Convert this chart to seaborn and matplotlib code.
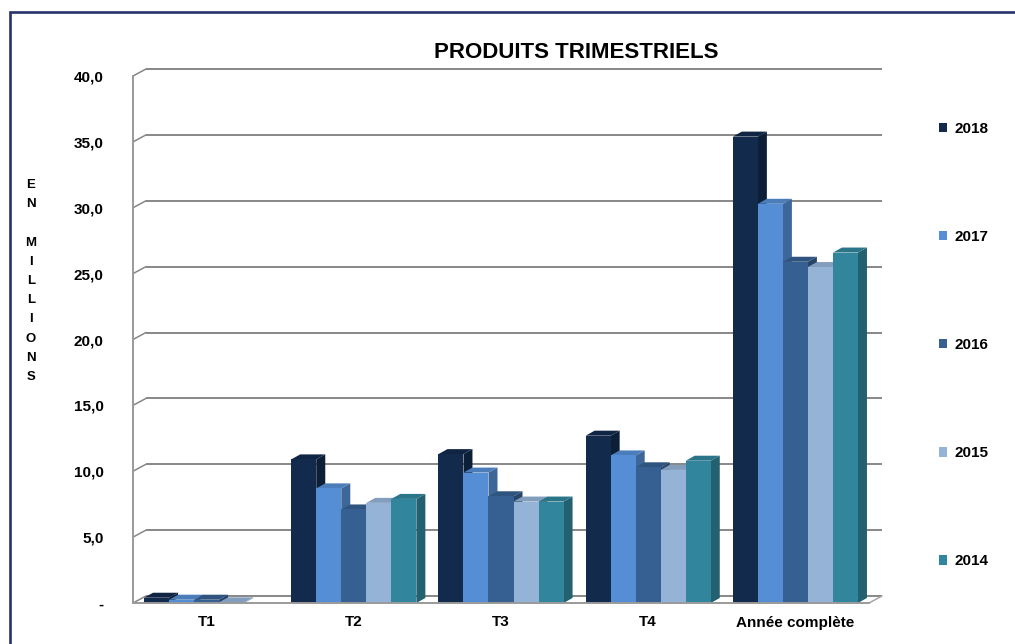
import matplotlib
matplotlib.use('Agg')
import matplotlib.pyplot as plt
import seaborn as sns
import pandas as pd
import numpy as np
from matplotlib.patches import Polygon, Rectangle
import matplotlib.colors as mcolors

# ---------------- data ----------------
categories = ['T1', 'T2', 'T3', 'T4', 'Année complète']
years = ['2018', '2017', '2016', '2015', '2014']
v2018 = [0.4, 10.9, 11.3, 12.7, 35.4]
v2017 = [0.25, 8.7, 9.9, 11.2, 30.3]
v2016 = [0.25, 7.1, 8.1, 10.3, 25.9]
v2015 = [0.05, 7.6, 7.7, 10.1, 25.5]
v2014 = [0.0, 7.9, 7.7, 10.8, 26.6]
y_ticks = [0, 5, 10, 15, 20, 25, 30, 35, 40]
y_tick_labels = ['-', '5,0', '10,0', '15,0', '20,0', '25,0', '30,0', '35,0', '40,0']
colors = ['#122A4C', '#558ED5', '#376092', '#95B3D7', '#31859C']
title = 'PRODUITS TRIMESTRIELS'
ylabel = 'E\nN\n\nM\nI\nL\nL\nI\nO\nN\nS'

df = pd.DataFrame({
    'cat': categories * 5,
    'year': np.repeat(years, len(categories)),
    'val': v2018 + v2017 + v2016 + v2015 + v2014,
})

# ---------------- figure ----------------
sns.set_style('white')
plt.rcParams['font.family'] = ['Liberation Sans', 'DejaVu Sans']
plt.rcParams['text.color'] = 'black'
plt.rcParams['axes.labelcolor'] = 'black'
plt.rcParams['xtick.labelcolor'] = 'black'
plt.rcParams['ytick.labelcolor'] = 'black'

W, H = 1015, 644
fig = plt.figure(figsize=(W / 100, H / 100), dpi=100)
ax_left, ax_right, ax_top, ax_bottom = 133, 869, 76, 603
ax = fig.add_axes([ax_left / W, 1 - ax_bottom / H, (ax_right - ax_left) / W, (ax_bottom - ax_top) / H])

sns.barplot(data=df, x='cat', y='val', hue='year', hue_order=years, order=categories,
            palette=colors, width=0.85, saturation=1, ax=ax, zorder=3,
            edgecolor='none', linewidth=0, errorbar=None)

ax.set_xlim(-0.5, 4.5)
ax.set_ylim(0, 40)

px_x = (ax_right - ax_left) / 5.0      # pixels per x unit
px_y = (ax_bottom - ax_top) / 40.0     # pixels per y unit

# depth offsets (in data units)
bdx, bdy = 9 / px_x, 5 / px_y          # bar depth
wdx, wdy = 13 / px_x, 7 / px_y         # wall depth

grid_c = '#878787'
# back wall gridlines and left-wall diagonals
for v in y_ticks:
    ax.plot([-0.5 + wdx, 4.5 + wdx], [v + wdy, v + wdy], color=grid_c, lw=1.4,
            clip_on=False, zorder=1, solid_capstyle='butt')
    ax.plot([-0.5, -0.5 + wdx], [v, v + wdy], color=grid_c, lw=1.1, clip_on=False, zorder=1)
# floor right diagonal
ax.plot([4.5, 4.5 + wdx], [0, wdy], color='#A6A6A6', lw=1.1, clip_on=False, zorder=1)

# 3D faces for bars
bars = [p for p in ax.patches if isinstance(p, Rectangle)]
for p in bars:
    x0, w, h = p.get_x(), p.get_width(), p.get_height()
    if not np.isfinite(h) or h <= 0:
        continue
    fc = np.array(mcolors.to_rgb(p.get_facecolor()))
    side = fc * 0.72
    top = fc * 0.88
    ax.add_patch(Polygon([(x0 + w, 0), (x0 + w + bdx, bdy), (x0 + w + bdx, h + bdy), (x0 + w, h)],
                         closed=True, facecolor=side, edgecolor='none', zorder=2.5, clip_on=False))
    ax.add_patch(Polygon([(x0, h), (x0 + bdx, h + bdy), (x0 + w + bdx, h + bdy), (x0 + w, h)],
                         closed=True, facecolor=top, edgecolor='none', zorder=2.6, clip_on=False))

# spines
for s in ['top', 'right']:
    ax.spines[s].set_visible(False)
for s in ['left', 'bottom']:
    ax.spines[s].set_color('#9A9A9A')
    ax.spines[s].set_linewidth(1.4)
    ax.spines[s].set_zorder(4)

ax.set_xlabel('')
ax.set_ylabel('')
ax.set_yticks(y_ticks, y_tick_labels)
ax.tick_params(axis='y', length=4, width=1, color=grid_c, pad=17, labelsize=11, labelcolor='black')
for t in ax.get_yticklabels():
    t.set_fontweight('bold')

ax.set_xticks(range(len(categories)), categories)
ax.set_xticks([0.5, 1.5, 2.5, 3.5, 4.5], minor=True)
ax.tick_params(axis='x', which='major', length=0, pad=9, labelsize=11, labelcolor='black')
ax.tick_params(axis='x', which='minor', length=3, width=1, color=grid_c, direction='out')
for t in ax.get_xticklabels():
    t.set_fontweight('bold')
ax.grid(False)
ax.set_facecolor('none')

# legend
handles, labels = ax.get_legend_handles_labels()
if ax.get_legend() is not None:
    ax.get_legend().remove()
fig.legend(handles, labels, loc='upper left', bbox_to_anchor=(939 / W, 1 - 122 / H),
           frameon=False, prop={'weight': 'bold', 'size': 11}, labelspacing=6.16,
           handlelength=0.55, handleheight=0.55, handletextpad=0.45,
           borderpad=0, borderaxespad=0, labelcolor='black')

# title and y label
fig.text(576 / W, 1 - 52 / H, title, ha='center', va='center', fontsize=16, fontweight='bold',
         color='black')
fig.text(31 / W, 1 - 281 / H, ylabel, ha='center', va='center', fontsize=9.5,
         fontweight='bold', linespacing=1.8, multialignment='center', color='black')

# outer navy frame (cut by the image edges on the right and bottom)
fig.add_artist(Rectangle((9.5 / W, -0.2), 1.5, (1 - 12.5 / H) + 0.2, transform=fig.transFigure,
                         fill=False, edgecolor='#27336B', lw=1.9, zorder=10))

fig.savefig('out.png', dpi=100)
